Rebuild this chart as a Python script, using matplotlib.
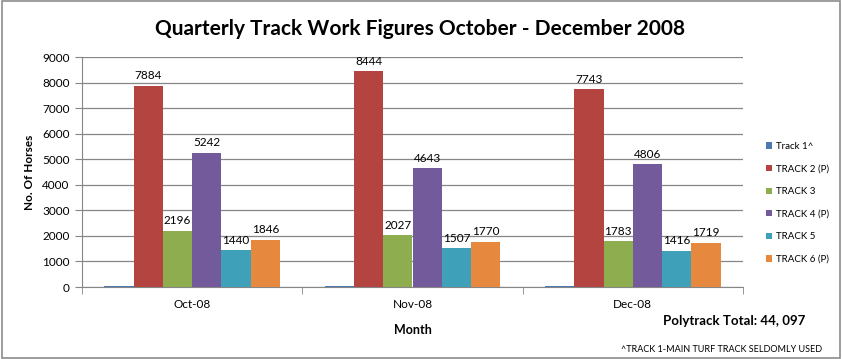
import matplotlib
matplotlib.use('Agg')
import matplotlib.pyplot as plt
import numpy as np
from matplotlib.patches import Rectangle

months = ['Oct-08', 'Nov-08', 'Dec-08']
series_names = ['Track 1^', 'TRACK 2 (P)', 'TRACK 3', 'TRACK 4 (P)', 'TRACK 5', 'TRACK 6 (P)']
track1 = [50, 45, 40]
track2 = [7884, 8444, 7743]
track3 = [2196, 2027, 1783]
track4 = [5242, 4643, 4806]
track5 = [1440, 1507, 1416]
track6 = [1846, 1770, 1719]
show_labels = [False, True, True, True, True, True]
colors = ['#4A7AB0', '#B3443F', '#8EAD4F', '#735A9A', '#3FA0BA', '#E6883D']

plt.rcParams['font.family'] = ['Lato', 'DejaVu Sans']

fig = plt.figure(figsize=(8.42, 3.59), dpi=100)
fig.patches.append(Rectangle((0.002, 0.003), 0.996, 0.994, transform=fig.transFigure,
                             fill=False, edgecolor='#8c8c8c', linewidth=1.2))
ax = fig.add_axes([82 / 842, 1 - 287 / 359, (743 - 82) / 842, (287 - 57) / 359])

data = [track1, track2, track3, track4, track5, track6]
x = np.arange(len(months))
width = 0.133
for i, (name, vals) in enumerate(zip(series_names, data)):
    pos = x + (i - 2.5) * width
    ax.bar(pos, vals, width=width, color=colors[i], label=name, zorder=3)
    if show_labels[i]:
        for px, v in zip(pos, vals):
            ax.text(px, v + 180, str(v), ha='center', va='bottom', fontsize=8.5, color='black')

ax.set_xlim(-0.5, 2.5)
ax.set_ylim(0, 9000)
ax.set_yticks(np.arange(0, 9001, 1000))
ax.yaxis.grid(True, color='#868686', linewidth=0.9, zorder=0)
ax.set_xticks(x, months)
ax.set_xticks([-0.5, 0.5, 1.5, 2.5], minor=True)
ax.tick_params(axis='x', which='major', length=0, pad=9, labelsize=8.5)
ax.tick_params(axis='x', which='minor', length=5, color='#868686')
ax.tick_params(axis='y', length=5, color='#868686', labelsize=8.5, pad=4)
for side in ['top', 'right']:
    ax.spines[side].set_visible(False)
for side in ['left', 'bottom']:
    ax.spines[side].set_color('#868686')

ax.set_ylabel('No. Of Horses', fontsize=8.5, fontweight='bold', labelpad=5)
ax.set_xlabel('Month', fontsize=9, fontweight='bold', labelpad=10)

fig.text(420 / 842, 1 - 29 / 359, 'Quarterly Track Work Figures October - December 2008',
         ha='center', va='center', fontsize=15, fontweight='bold')
fig.text(805 / 842, 1 - 321 / 359, 'Polytrack Total: 44, 097', ha='right', va='center',
         fontsize=9.5, fontweight='bold')
fig.text(822 / 842, 1 - 349 / 359, '^TRACK 1-MAIN TURF TRACK SELDOMLY USED', ha='right',
         va='center', fontsize=6.5)

ax.legend(loc='upper left', bbox_to_anchor=(762 / 842, 1 - 138 / 359), bbox_transform=fig.transFigure,
          frameon=False, fontsize=7, handlelength=0.6, handleheight=0.6, handletextpad=0.4,
          labelspacing=1.4, borderaxespad=0)

fig.savefig('out.png', dpi=100)
